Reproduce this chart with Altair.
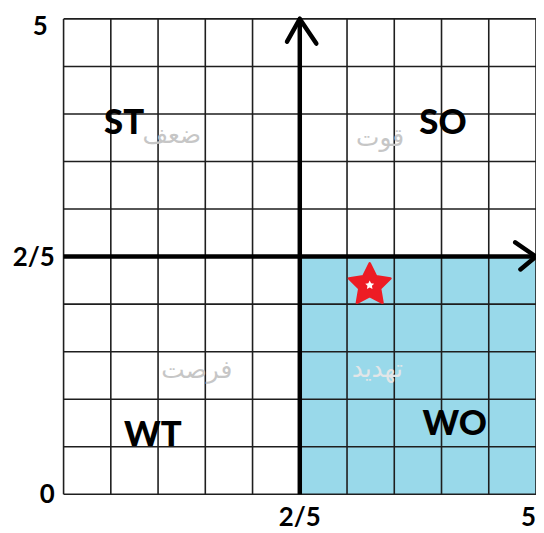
import math
import altair as alt
import pandas as pd

# ---------------- data ----------------
grid_positions = list(range(11))
center_value = 5
axis_min = 0
axis_max = 10

x_tick_values = [5, 10]
x_tick_labels = ["2/5", "5"]
y_tick_values = [0, 5, 10]
y_tick_labels = ["0", "2/5", "5"]

codes = ["ST", "SO", "WT", "WO"]
codes_x = [1.28, 8.03, 1.89, 8.28]
codes_y = [7.81, 7.81, 1.25, 1.48]

words = ["ضعف", "قوت", "فرصت", "تهدید"]
words_x = [2.29, 6.70, 2.82, 6.64]
words_y = [7.56, 7.49, 2.61, 2.63]
words_color = ["#c6c6c6", "#c6c6c6", "#c6c6c6", "#e2e6e8"]

star_x = [6.48]
star_y = [4.40]

# arrowhead arm offsets (data units)
up_arm_dx = [-0.27, 0.35]
up_arm_dy = [-0.48, -0.52]
right_arm_dx = [-0.44, -0.33]
right_arm_dy = [0.30, -0.27]


def star_path(inner=0.5):
    pts = []
    for i in range(10):
        r = 1.0 if i % 2 == 0 else inner
        a = -math.pi / 2 + i * math.pi / 5
        pts.append(f"{r * math.cos(a):.4f},{r * math.sin(a):.4f}")
    return "M" + " L".join(pts) + " Z"


STAR = star_path(0.5)

xs = alt.Scale(domain=[axis_min, axis_max], nice=False, zero=False)
ys = alt.Scale(domain=[axis_min, axis_max], nice=False, zero=False)

# quadrant fill
quad_df = pd.DataFrame({"x0": [center_value], "x1": [axis_max], "y0": [axis_min], "y1": [center_value]})
quad = alt.Chart(quad_df).mark_rect(color="#99d9ea").encode(
    x=alt.X("x0:Q", scale=xs, axis=None), x2="x1:Q",
    y=alt.Y("y0:Q", scale=ys, axis=None), y2="y1:Q",
)

grid_df = pd.DataFrame({"p": grid_positions, "lo": axis_min, "hi": axis_max})
vgrid = alt.Chart(grid_df).mark_rule(color="#1e1e1e", strokeWidth=1.6).encode(
    x=alt.X("p:Q", scale=xs, axis=None),
    y=alt.Y("lo:Q", scale=ys, axis=None), y2="hi:Q",
)
hgrid = alt.Chart(grid_df).mark_rule(color="#1e1e1e", strokeWidth=1.6).encode(
    y=alt.Y("p:Q", scale=ys, axis=None),
    x=alt.X("lo:Q", scale=xs, axis=None), x2="hi:Q",
)

axes_df = pd.DataFrame({
    "x": [center_value, axis_min], "x2": [center_value, axis_max],
    "y": [axis_min, center_value], "y2": [axis_max, center_value],
})
thick = alt.Chart(axes_df).mark_rule(color="black", strokeWidth=4.5).encode(
    x=alt.X("x:Q", scale=xs, axis=None), x2="x2:Q",
    y=alt.Y("y:Q", scale=ys, axis=None), y2="y2:Q",
)

arm_rows = []
for dx, dy in zip(up_arm_dx, up_arm_dy):
    arm_rows.append({"x": center_value, "y": axis_max, "x2": center_value + dx, "y2": axis_max + dy})
for dx, dy in zip(right_arm_dx, right_arm_dy):
    arm_rows.append({"x": axis_max, "y": center_value, "x2": axis_max + dx, "y2": center_value + dy})
arms = alt.Chart(pd.DataFrame(arm_rows)).mark_rule(color="black", strokeWidth=4.5, strokeCap="round").encode(
    x=alt.X("x:Q", scale=xs, axis=None), x2="x2:Q",
    y=alt.Y("y:Q", scale=ys, axis=None), y2="y2:Q",
)

# tick labels drawn as text at the axis positions
tick_font = dict(font="Lato", fontWeight="bold", fontSize=26, color="black")

ylo_df = pd.DataFrame({"v": y_tick_values[:-1], "t": y_tick_labels[:-1], "base": axis_min})
ytop_df = pd.DataFrame({"v": y_tick_values[-1:], "t": y_tick_labels[-1:], "base": axis_min})
ylab_lo = alt.Chart(ylo_df).mark_text(align="right", baseline="middle", dx=-9, dy=1, **tick_font).encode(
    y=alt.Y("v:Q", scale=ys, axis=None), x=alt.X("base:Q", scale=xs, axis=None), text="t:N"
)
ylab_top = alt.Chart(ytop_df).mark_text(align="right", baseline="middle", dx=-16, dy=8, **tick_font).encode(
    y=alt.Y("v:Q", scale=ys, axis=None), x=alt.X("base:Q", scale=xs, axis=None), text="t:N"
)

inner_df = pd.DataFrame({"v": x_tick_values[:-1], "t": x_tick_labels[:-1], "base": axis_min})
last_df = pd.DataFrame({"v": x_tick_values[-1:], "t": x_tick_labels[-1:], "base": axis_min})
xlab_inner = alt.Chart(inner_df).mark_text(
    align="center", baseline="middle", dy=24, **tick_font
).encode(x=alt.X("v:Q", scale=xs, axis=None), y=alt.Y("base:Q", scale=ys, axis=None), text="t:N")
xlab_last = alt.Chart(last_df).mark_text(
    align="right", baseline="middle", dy=24, dx=0, **tick_font
).encode(x=alt.X("v:Q", scale=xs, axis=None), y=alt.Y("base:Q", scale=ys, axis=None), text="t:N")

codes_df = pd.DataFrame({"t": codes, "x": codes_x, "y": codes_y})
code_text = alt.Chart(codes_df).mark_text(
    font="Lato", fontWeight=900, fontSize=35, color="black", baseline="middle", align="center"
).encode(
    x=alt.X("x:Q", scale=xs, axis=None), y=alt.Y("y:Q", scale=ys, axis=None), text="t:N"
)

words_df = pd.DataFrame({"t": words, "x": words_x, "y": words_y, "c": words_color})
word_text = alt.Chart(words_df).mark_text(
    font="DejaVu Sans", fontSize=25, baseline="middle", align="center"
).encode(
    x=alt.X("x:Q", scale=xs, axis=None), y=alt.Y("y:Q", scale=ys, axis=None), text="t:N",
    color=alt.Color("c:N", scale=None),
)

star_df = pd.DataFrame({"x": star_x, "y": star_y})
star = alt.Chart(star_df).mark_point(
    shape=STAR, filled=True, color="#ed1c24", size=1936, opacity=1,
    stroke="#ed1c24", strokeWidth=2.5, strokeJoin="round"
).encode(
    x=alt.X("x:Q", scale=xs, axis=None), y=alt.Y("y:Q", scale=ys, axis=None)
)
star_hole = alt.Chart(star_df).mark_point(shape=STAR, filled=True, color="white", size=90, opacity=1).encode(
    x=alt.X("x:Q", scale=xs, axis=None), y=alt.Y("y:Q", scale=ys, axis=None)
)

chart = alt.layer(
    quad, vgrid, hgrid, thick, arms, ylab_lo, ylab_top, xlab_inner, xlab_last,
    word_text, code_text, star, star_hole
).properties(
    width=476, height=479,
    autosize=alt.AutoSizeParams(type="none"),
    padding={"left": 56, "top": 9, "right": 0, "bottom": 34},
).configure_view(stroke=None)

chart.save("out.html", embed_options={"renderer": "svg", "actions": False})
